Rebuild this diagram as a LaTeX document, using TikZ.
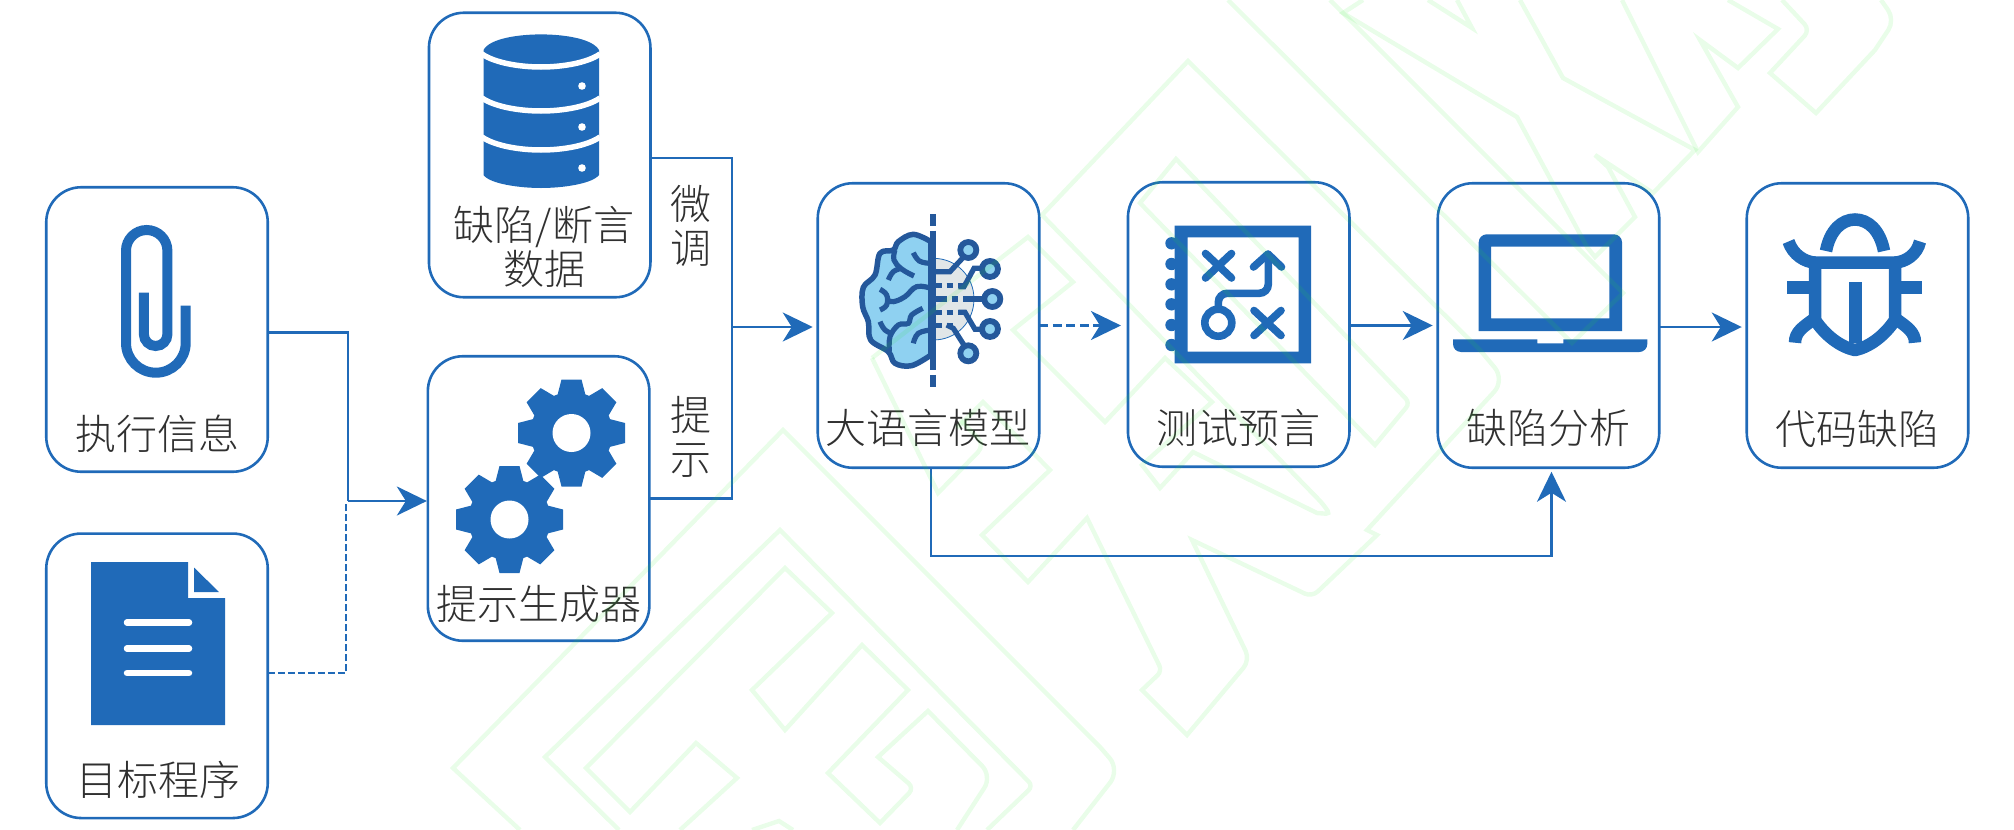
\documentclass[tikz,border=0pt]{standalone}
\usepackage{fontspec}
\usetikzlibrary{arrows.meta,calc}
\newfontfamily\cjk{Noto Sans CJK SC Light}
\definecolor{iconblue}{HTML}{206AB8}
\definecolor{linkblue}{HTML}{206AB8}
\definecolor{braindark}{HTML}{24589B}
\definecolor{brainlight}{HTML}{8FD1F1}
\definecolor{braingrey}{HTML}{E1E6E8}
\definecolor{wm}{RGB}{35,235,35}
\definecolor{txt}{HTML}{303030}
\tikzset{
  panel/.style={draw=linkblue,line width=2.6pt,rounded corners=35pt,minimum width=221.5pt,minimum height=284.5pt,inner sep=0pt,outer sep=0pt},
  captext/.style={font=\cjk\fontsize{41}{44}\selectfont,text=txt,inner sep=0pt,align=center},
  conn/.style={draw=linkblue,line width=2.5pt},
  flow/.style={conn,-{Stealth[length=30pt,width=29pt,inset=9pt]}},
  dashline/.style={dash pattern=on 9pt off 4.5pt},
  shortdash/.style={dash pattern=on 7pt off 3pt},
  wmline/.style={draw=wm,draw opacity=.1,line width=4.4pt,line join=miter},
  wire/.style={draw=braindark,line width=5.2pt},
}
\newcommand\gearicon[2]{\begin{scope}[shift={(#1,#2)}]
  \fill[iconblue] (0,0) circle[radius=41];
  \foreach \a in {0,45,...,315}{\fill[iconblue,rotate=\a] (-14,-38)--(-10,-53.5)--(10,-53.5)--(14,-38)--cycle;}
  \fill[white] (0,0) circle[radius=19];
\end{scope}}
\begin{document}
\begin{tikzpicture}[x=1pt,y=-1pt]
\useasboundingbox (0,0) rectangle (2014,830);
% panels
\node[panel] (exec) at (157,329.5) {};
\node[panel] (target) at (157,675.8) {};
\node[panel] (data) at (539.7,155) {};
\node[panel] (prompt) at (538.6,498.5) {};
\node[panel] (llm) at (928.5,325.5) {};
\node[panel] (oracle) at (1238.7,324.5) {};
\node[panel] (analysis) at (1548.5,325.5) {};
\node[panel] (bug) at (1857.5,325.5) {};
% captions
\node[captext] (t1) at (157,434) {执行信息};
\node[captext] (t2) at (158.5,780) {目标程序};
\node[captext] (t3) at (544,247) {缺陷/断言\\数据};
\node[captext] (t4) at (539,604) {提示生成器};
\node[captext] (t5) at (928,428) {大语言模型};
\node[captext] (t6) at (1238,428) {测试预言};
\node[captext] (t7) at (1548.5,428) {缺陷分析};
\node[captext] (t8) at (1857,429) {代码缺陷};
\node[captext] (t9) at (691,226) {微\\调};
\node[captext] (t10) at (691,437) {提\\示};
% paper clip
\draw[iconblue,line width=10pt] (143.9,292.7) [rounded corners=11.7pt] -- (143.9,346) -- (167.4,346) [rounded corners=20.7pt] -- (167.4,230) -- (126,230) [rounded corners=29.8pt] -- (126,372.7) -- (185.7,372.7) [sharp corners] -- (185.7,305.5);
% document
\fill[iconblue] (91,562)--(188,562)--(188,598)--(225,598)--(225,725)--(91,725)--cycle;
\fill[iconblue] (194,567.5)--(219,592)--(194,592)--cycle;
\foreach \yy in {622.5,648.5,673}{\draw[white,line width=6.5pt,line cap=round] (127,\yy)--(189,\yy);}
% database
\fill[iconblue] (483.5,50) -- (483.5,175) .. controls (490,184) and (520,188) .. (541,188) .. controls (562,188) and (592,184) .. (599,175) -- (599,50) .. controls (592,38) and (562,34.4) .. (541,34.4) .. controls (520,34.4) and (490,38) .. (483.5,50) -- cycle;
\foreach \yy in {54,98,137}{\draw[white,line width=5.5pt] (482,\yy) .. controls (495,\yy+9) and (520,\yy+13) .. (541,\yy+13) .. controls (562,\yy+13) and (587,\yy+9) .. (600,\yy);}
\foreach \yy in {86,127,168}{\fill[white] (582,\yy) circle[radius=3.8];}
% gears
\gearicon{571.5}{433}
\gearicon{509.5}{519.5}
% brain
\begin{scope}[shift={(830,200)},x=.3333pt,y=-.3333pt]
  \fill[braingrey] (310,175) .. controls (380,175) and (432,230) .. (432,297) .. controls (432,365) and (380,420) .. (310,420) -- cycle;
  \draw[draw=linkblue,line width=.8pt] (310,175) .. controls (380,175) and (432,230) .. (432,297) .. controls (432,365) and (380,420) .. (310,420);
  \draw[draw=braindark,fill=brainlight,line width=5.5pt,line join=round] plot[smooth,tension=.6] coordinates {(303,125)(250,103)(205,125)(190,150)(150,160)(135,225)(100,262)(98,320)(115,365)(122,420)(175,455)(195,490)(245,497)(303,465)} -- cycle;
  \draw[wire] plot[smooth,tension=.7] coordinates {(250,158)(268,183)(300,190)};
  \draw[wire] plot[smooth,tension=.7] coordinates {(195,150)(192,180)(215,207)(252,228)};
  \draw[wire] plot[smooth,tension=.7] coordinates {(175,240)(190,215)(215,205)};
  \draw[wire] plot[smooth,tension=.7] coordinates {(303,265)(260,260)(225,290)(190,305)(170,298)};
  \draw[wire] plot[smooth,tension=.7] coordinates {(150,268)(170,285)(170,315)(150,330)};
  \draw[wire] plot[smooth,tension=.7] coordinates {(150,365)(165,390)(190,402)};
  \draw[wire] plot[smooth,tension=.6] coordinates {(278,325)(245,345)(235,370)(205,375)(180,410)(178,455)};
  \draw[wire] plot[smooth,tension=.7] coordinates {(250,430)(265,400)(303,390)};
  \draw[draw=braindark,line width=6pt] (310,92)--(310,510) (310,42)--(310,77) (310,525)--(310,560);
  \draw[wire] (318,215)--(360,215)--(400,172);
  \draw[wire] (385,260)--(402,260)--(432,205)--(460,205);
  \draw[wire] (400,297)--(465,297);
  \draw[wire] (385,337)--(405,337)--(435,388)--(460,388);
  \draw[wire] (350,375)--(370,385)--(405,440);
  \draw[wire] (318,257)--(335,257) (350,257)--(368,257) (385,257)--(402,257);
  \draw[wire] (318,297)--(352,297) (365,297)--(385,297);
  \draw[wire] (318,337)--(335,337) (350,337)--(368,337) (385,337)--(402,337);
  \draw[wire] (318,377)--(335,377) (350,377)--(370,377);
  \foreach \cx/\cy in {415/150,480/207,487/297,480/387,415/460}{\draw[draw=braindark,fill=brainlight,line width=5.8pt] (\cx,\cy) circle[radius=24];}
\end{scope}
% oracle icon
\foreach \yy in {243.3,264,284.3,304.3,325,345}{\fill[iconblue] (1171.5,\yy) circle[radius=6.2];}
\fill[iconblue,even odd rule] (1174.6,225.7) rectangle (1311,363.3) (1187.6,237.3) rectangle (1298.6,351.7);
\begin{scope}[line width=7.6pt,line cap=round]
  \draw[iconblue] (1205.5,253.5)--(1231.5,278) (1231.5,253.5)--(1205.5,278);
  \draw[iconblue] (1254,310.5)--(1281,335.5) (1281,310.5)--(1254,335.5);
  \draw[iconblue,line join=round] (1253.5,267)--(1268,254)--(1281.5,267);
  \draw[iconblue] (1218.3,308) [rounded corners=9pt] -- (1218.3,293.3) -- (1268.3,293.3) [sharp corners] -- (1268.3,255);
  \draw[iconblue] (1218.3,322.7) circle[radius=13.5];
\end{scope}
% laptop
\fill[iconblue,even odd rule] (1478.7,331) [rounded corners=8pt] -- (1478.7,234.3) -- (1622,234.3) [sharp corners] -- (1622,331) -- cycle (1491,246.7) rectangle (1609.3,318.3);
\fill[iconblue] (1453,339.3) -- (1537.3,339.3) -- (1537.3,343.3) -- (1563.3,343.3) -- (1563.3,339.3) -- (1647.3,339.3) [rounded corners=8pt] -- (1647.3,352) -- (1453,352) [sharp corners] -- cycle;
% bug
\begin{scope}[line width=12.5pt]
  \draw[iconblue] (1826,251) .. controls (1830,230) and (1842,219.5) .. (1855,219.5) .. controls (1868,219.5) and (1880,230) .. (1884,251);
  \draw[iconblue,line join=round] (1815,262.6) -- (1895,262.6) -- (1895,320) .. controls (1885,335) and (1870,347) .. (1855,350) .. controls (1840,347) and (1825,335) .. (1815,320) -- cycle;
  \draw[iconblue] (1855.5,282.3)--(1855.5,343);
  \draw[iconblue] (1788.5,241.5) .. controls (1793,255) and (1805,262) .. (1815,262.6);
  \draw[iconblue] (1920,241.5) .. controls (1917,255) and (1905,262) .. (1895,262.6);
  \draw[iconblue] (1787,287.3)--(1815,287.3) (1895,287.3)--(1922,287.3);
  \draw[iconblue] (1814,319) .. controls (1803,327) and (1795,332) .. (1795,342.7);
  \draw[iconblue] (1896,319) .. controls (1907,327) and (1915,332) .. (1915,342.7);
\end{scope}
% connectors
\coordinate (j1) at (348,501);
\coordinate (j3) at (346,503);
\coordinate (j2) at (732,327);
\draw[conn] ([yshift=-3pt]exec.east) -| (j1);
\draw[conn,shortdash] ([yshift=2.8pt]target.east) -| (j3);
\draw[flow,shorten >=1pt] (j1) -- (j1 -| prompt.west);
\draw[conn] ([yshift=-3pt]data.east) -| (j2) |- (prompt.east);
\draw[flow,shorten >=5pt] (j2) -- (j2 -| llm.west);
\draw[flow,dashline,shorten >=7pt] (llm.east) -- (llm.east -| oracle.west);
\draw[flow,shorten >=5pt] (oracle.east |- llm.east) -- (analysis.west);
\draw[flow,shorten >=5pt] ([yshift=-1.5pt]analysis.east) -- ([yshift=-1.5pt]bug.west);
\draw[flow,shorten >=4pt] ([xshift=2.5pt]llm.south) -- ++(0,88) -| ([xshift=3pt]analysis.south);
% watermark
\draw[wmline] (520,830)--(453,768)--(783,430)--(1100,747) [rounded corners=16pt] --(1120,770)--(1073,830);
\draw[wmline] (619,830)--(545,757)--(780,530) [rounded corners=6pt] --(1033,786) [sharp corners] --(987,830);
\draw[wmline] (680,830)--(737,778)--(696,743)--(630,812)--(586,768)--(785,568)--(832,613)--(752,690)--(785,730)--(862,645)--(908,690)--(828,773)--(880,823) [rounded corners=7pt] --(914,788) [sharp corners] --(878,757)--(928,711) [rounded corners=14pt] --(992,776) [sharp corners] --(957,830);
\draw[wmline] (752,830)--(779,821)--(793,830);
\draw[wmline] (872,358)--(1028,237)--(1073,282)--(1013,330)--(1105,422)--(1165,358)--(1212,402)--(1142,465)--(1160,488)--(1193,452)--(1317,513) [rounded corners=4pt] --(1330,514)--(1322,503) [sharp corners] --(1042,215)--(1188,61)--(1480,350) [rounded corners=16pt] --(1505,380) [sharp corners] --(1367,530)--(1377,535) [rounded corners=8pt] --(1312,597) [sharp corners] --(1192,540) [rounded corners=10pt] --(1250,660) [sharp corners] --(1187,735)--(1142,690) [rounded corners=6pt] --(1162,671) [sharp corners] --(1087,518)--(1028,582)--(982,535)--(1050,470)--(983,402)--(957,428);
\draw[wmline] (872,358)--(938,493) [rounded corners=10pt] --(985,445) [sharp corners] --(960,420);
\draw[wmline] (1176,159)--(1140,203)--(1375,445) [rounded corners=6pt] --(1410,403) [sharp corners] --cycle;
\draw[wmline] (1228,0)--(1572,343)--(1623,293)--(1330,0);
\draw[wmline] (1363,0)--(1343,13)--(1517,117)--(1587,247)--(1595,257)--(1635,217)--(1608,167)--(1595,155)--(1653,193)--(1695,150)--(1563,78)--(1520,0);
\draw[wmline] (1622,0)--(1698,152)--(1738,107)--(1700,40)--(1738,68)--(1778,29)--(1728,0);
\draw[wmline] (1428,0)--(1472,28)--(1457,0);
\draw[wmline] (1782,0) [rounded corners=8pt] --(1810,30) [sharp corners] --(1770,73)--(1816,113)--(1875,50) [rounded corners=12pt] --(1895,20) [sharp corners] --(1881,0);
\end{tikzpicture}
\end{document}
